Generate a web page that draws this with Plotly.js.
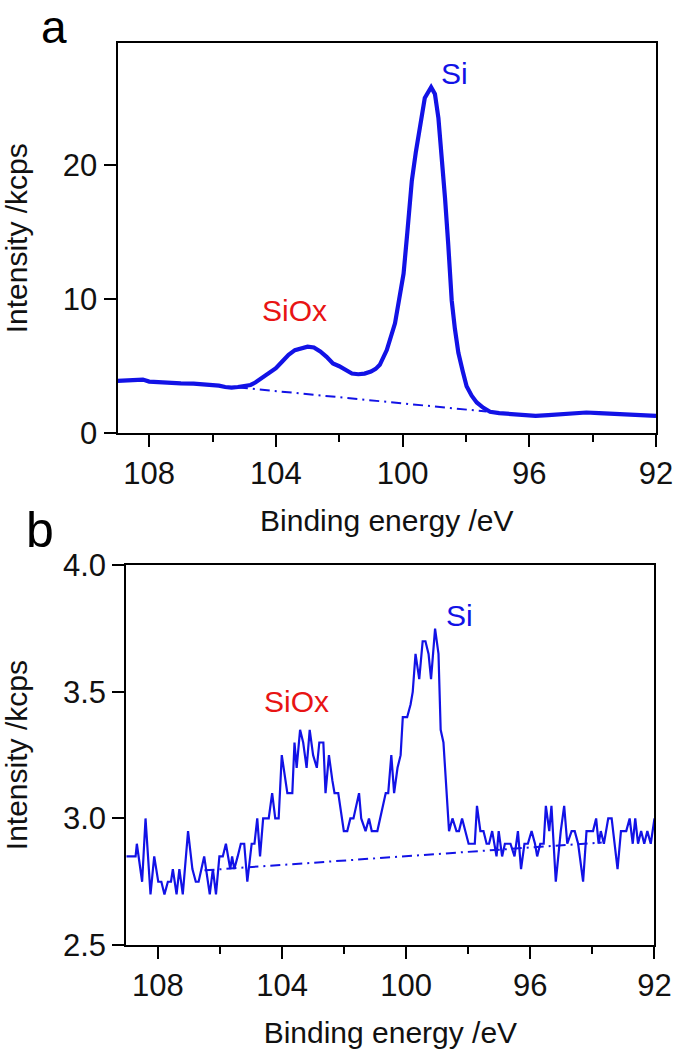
<!DOCTYPE html>
<html><head><meta charset="utf-8">
<script src="https://cdn.plot.ly/plotly-3.0.1.min.js"></script>
<style>html,body{margin:0;padding:0;background:#fff}</style>
</head><body><div id="chart" style="width:675px;height:1056px"></div>
<script>
// Panel a: Si 2p spectrum (thick line)
const energyA = [109.0,108.7,108.4,108.2,108.0,107.7,107.3,107.0,106.6,106.3,106.0,105.8,105.6,105.4,105.2,105.0,104.8,104.65,104.4,104.2,104.0,103.8,103.6,103.4,103.2,103.0,102.8,102.6,102.4,102.2,102.0,101.8,101.6,101.4,101.2,101.0,100.85,100.72,100.5,100.24,100.1,99.97,99.85,99.71,99.58,99.45,99.3,99.1,98.98,98.87,98.77,98.66,98.56,98.45,98.35,98.24,98.1,97.98,97.82,97.66,97.45,97.24,96.95,96.71,96.45,96.19,95.8,95.4,95.0,94.6,94.2,93.8,93.4,93.0,92.5,92.0];
const intensityA = [3.9,3.95,3.95,4.0,3.85,3.8,3.78,3.72,3.7,3.65,3.6,3.55,3.45,3.4,3.45,3.5,3.6,3.78,4.2,4.55,4.85,5.35,5.85,6.2,6.35,6.45,6.4,6.1,5.7,5.2,5.0,4.75,4.45,4.4,4.45,4.6,4.8,5.1,6.2,8.2,10.0,11.9,15.0,18.8,21.0,22.8,25.0,25.8,25.3,23.5,20.8,17.5,14.1,9.9,7.8,6.0,4.6,3.5,2.8,2.3,1.9,1.6,1.5,1.45,1.38,1.33,1.3,1.35,1.4,1.5,1.55,1.5,1.45,1.37,1.32,1.3];
const baselineEA = [105.2, 97.35];
const baselineIA = [3.42, 1.62];

// Panel b: noisy spectrum
const energyB = [109.02,108.72,108.68,108.51,108.40,108.24,108.12,107.99,107.89,107.79,107.68,107.58,107.52,107.40,107.31,107.20,107.03,106.89,106.78,106.69,106.51,106.33,106.23,106.13,106.02,105.91,105.81,105.67,105.61,105.54,105.43,105.33,105.22,105.12,104.98,104.89,104.80,104.71,104.61,104.43,104.32,104.22,104.11,104.01,103.83,103.67,103.60,103.53,103.42,103.32,103.21,103.11,103.00,102.88,102.80,102.67,102.60,102.49,102.38,102.31,102.19,102.01,101.90,101.80,101.70,101.52,101.45,101.31,101.20,101.11,100.93,100.76,100.66,100.58,100.48,100.39,100.28,100.18,100.11,99.97,99.86,99.79,99.70,99.58,99.47,99.38,99.28,99.20,99.07,98.96,98.89,98.80,98.62,98.51,98.38,98.30,98.20,97.99,97.85,97.79,97.72,97.61,97.51,97.41,97.33,97.23,97.09,97.02,96.91,96.82,96.64,96.51,96.40,96.30,96.19,96.08,95.96,95.85,95.78,95.68,95.57,95.50,95.39,95.32,95.18,95.02,94.91,94.81,94.67,94.57,94.46,94.30,94.19,93.98,93.88,93.80,93.73,93.63,93.49,93.38,93.19,93.08,92.91,92.80,92.70,92.62,92.53,92.43,92.33,92.23,92.12,92.00];
const intensityB = [2.85,2.85,2.9,2.75,3.0,2.7,2.85,2.75,2.75,2.7,2.75,2.75,2.8,2.7,2.8,2.7,2.95,2.8,2.75,2.75,2.85,2.7,2.8,2.7,2.85,2.85,2.9,2.8,2.85,2.8,2.85,2.9,2.9,2.75,2.9,2.9,3.0,2.85,3.0,3.0,3.1,3.0,3.0,3.25,3.1,3.1,3.3,3.2,3.35,3.3,3.2,3.35,3.25,3.2,3.3,3.3,3.1,3.25,3.15,3.1,3.1,2.95,2.95,3.0,3.0,3.1,3.0,2.95,3.0,2.95,2.95,3.05,3.1,3.1,3.25,3.1,3.2,3.25,3.4,3.4,3.45,3.5,3.65,3.55,3.7,3.7,3.65,3.55,3.75,3.65,3.35,3.3,2.95,3.0,2.95,2.95,3.0,2.9,2.9,2.9,3.05,2.95,2.95,2.9,2.9,2.95,2.85,2.95,2.85,2.9,2.9,2.85,2.95,2.8,2.9,2.9,2.95,2.9,2.85,2.9,2.9,3.05,2.95,3.05,2.75,2.95,3.05,2.9,2.95,2.95,2.9,2.75,2.95,2.95,3.0,2.9,2.95,2.9,3.0,3.0,2.8,2.95,2.95,3.0,2.9,3.0,2.9,2.95,2.9,2.95,2.9,3.0];
const baselineEB = [106.5, 93.7];
const baselineIB = [2.795, 2.905];

// Axes / labels
const xTicks = [108, 104, 100, 96, 92];
const xMinorTicks = [106, 102, 98, 94];
const yTicksA = [0, 10, 20];
const yTicksB = [2.5, 3.0, 3.5, 4.0];
const yTickTextB = ['2.5', '3.0', '3.5', '4.0'];
const xTitle = 'Binding energy /eV';
const yTitle = 'Intensity /kcps';
const peakLabels = ['SiOx', 'Si'];

const BLUE = 'rgb(18,18,230)';
const RED = 'rgb(232,20,20)';
const FONT = 'Liberation Sans, Arial, sans-serif';

const traces = [
  {x: energyA, y: intensityA, xaxis: 'x', yaxis: 'y', mode: 'lines', line: {color: BLUE, width: 4.2}, hoverinfo: 'skip'},
  {x: baselineEA, y: baselineIA, xaxis: 'x', yaxis: 'y', mode: 'lines', line: {color: BLUE, width: 2, dash: '10px,5px,2px,5px'}, hoverinfo: 'skip'},
  {x: energyB, y: intensityB, xaxis: 'x2', yaxis: 'y2', mode: 'lines', line: {color: BLUE, width: 2.2}, hoverinfo: 'skip'},
  {x: baselineEB, y: baselineIB, xaxis: 'x2', yaxis: 'y2', mode: 'lines', line: {color: BLUE, width: 2, dash: '10px,5px,2px,5px'}, hoverinfo: 'skip'}
];

function xAxis(domain, anchor, range) {
  return {
    domain: domain, anchor: anchor, range: range, autorange: false,
    tickmode: 'array', tickvals: xTicks, ticktext: xTicks.map(String),
    ticks: 'outside', ticklen: 12, tickwidth: 2, tickcolor: '#000',
    minor: {tickmode: 'array', tickvals: xMinorTicks, ticks: 'outside', ticklen: 7, tickwidth: 2, tickcolor: '#000'},
    showline: true, mirror: true, linewidth: 2, linecolor: '#000',
    showgrid: false, zeroline: false, automargin: false,
    tickfont: {family: FONT, size: 31, color: '#111'},
    title: {text: xTitle, font: {family: FONT, size: 30, color: '#111'}, standoff: 20}
  };
}
function yAxis(domain, anchor, range, vals, text) {
  return {
    domain: domain, anchor: anchor, range: range, autorange: false,
    tickmode: 'array', tickvals: vals, ticktext: text,
    ticks: 'outside', ticklen: 12, tickwidth: 2, tickcolor: '#000',
    showline: true, mirror: true, linewidth: 2, linecolor: '#000',
    showgrid: false, zeroline: false, automargin: false,
    tickfont: {family: FONT, size: 31, color: '#111'},
    title: {text: yTitle, font: {family: FONT, size: 30, color: '#111'}, standoff: 28}
  };
}

const layout = {
  width: 675, height: 1056,
  margin: {l: 0, r: 0, t: 0, b: 0},
  paper_bgcolor: '#fff', plot_bgcolor: '#fff',
  showlegend: false,
  xaxis: xAxis([0.1741, 0.9719], 'y', [109.0, 92]),
  yaxis: yAxis([0.5897, 0.9590], 'x', [0, 29.07], yTicksA, yTicksA.map(String)),
  xaxis2: xAxis([0.1871, 0.9696], 'y2', [109.02, 92]),
  yaxis2: yAxis([0.1051, 0.4647], 'x2', [2.5, 4.0], yTicksB, yTickTextB),
  annotations: [
    {xref: 'x', yref: 'y', x: 103.4, y: 9.15, text: peakLabels[0], showarrow: false, xanchor: 'center', yanchor: 'middle', font: {family: FONT, size: 30, color: RED}},
    {xref: 'x', yref: 'y', x: 98.35, y: 26.85, text: peakLabels[1], showarrow: false, xanchor: 'center', yanchor: 'middle', font: {family: FONT, size: 30, color: BLUE}},
    {xref: 'x2', yref: 'y2', x: 103.52, y: 3.46, text: peakLabels[0], showarrow: false, xanchor: 'center', yanchor: 'middle', font: {family: FONT, size: 30, color: RED}},
    {xref: 'x2', yref: 'y2', x: 98.27, y: 3.80, text: peakLabels[1], showarrow: false, xanchor: 'center', yanchor: 'middle', font: {family: FONT, size: 30, color: BLUE}},
    {xref: 'paper', yref: 'paper', x: 54/675, y: 1, text: 'a', showarrow: false, xanchor: 'center', yanchor: 'top', borderpad: 0, font: {family: FONT, size: 46, color: '#000'}},
    {xref: 'paper', yref: 'paper', x: 40/675, y: 1 - 530/1056, text: 'b', showarrow: false, xanchor: 'center', yanchor: 'middle', font: {family: FONT, size: 50, color: '#000'}}
  ]
};

Plotly.newPlot('chart', traces, layout, {displayModeBar: false, staticPlot: true});
</script>
</body></html>
